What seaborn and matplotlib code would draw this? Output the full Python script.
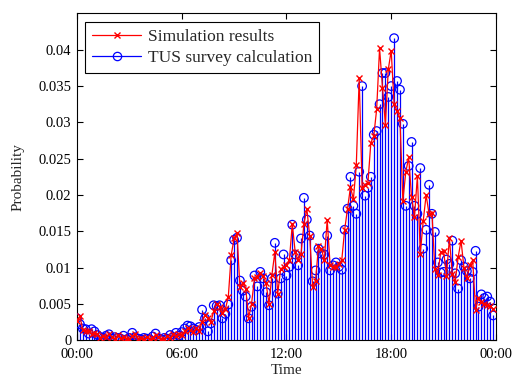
import numpy as np
import pandas as pd
import matplotlib
matplotlib.use("Agg")
import matplotlib.pyplot as plt
import seaborn as sns
from matplotlib.lines import Line2D

# 10-minute slots over one day (144 slots)
slot_hours = np.arange(144) / 6.0

tus_survey = [
    0.0030, 0.0022, 0.0016, 0.0015, 0.0009, 0.0015, 0.0012, 0.0007, 0.0004, 0.0003,
    0.0006, 0.0008, 0.0002, 0.0004, 0.0003, 0.0002, 0.0006, 0.0001, 0.0003, 0.0010,
    0.0004, 0.0002, 0.0001, 0.0003, 0.0002, 0.0001, 0.0005, 0.0009, 0.0002, 0.0001,
    0.0003, 0.0002, 0.0007, 0.0004, 0.0010, 0.0006, 0.0011, 0.0016, 0.0020, 0.0019,
    0.0016, 0.0014, 0.0018, 0.0042, 0.0030, 0.0012, 0.0023, 0.0048, 0.0047, 0.0048,
    0.0030, 0.0036, 0.0049, 0.0110, 0.0138, 0.0141, 0.0082, 0.0068, 0.0060, 0.0030,
    0.0046, 0.0089, 0.0074, 0.0094, 0.0085, 0.0066, 0.0048, 0.0085, 0.0134, 0.0064,
    0.0085, 0.0118, 0.0089, 0.0101, 0.0159, 0.0118, 0.0103, 0.0140, 0.0196, 0.0166,
    0.0144, 0.0081, 0.0096, 0.0126, 0.0119, 0.0118, 0.0144, 0.0096, 0.0103, 0.0107,
    0.0101, 0.0097, 0.0152, 0.0181, 0.0225, 0.0185, 0.0174, 0.0232, 0.0350, 0.0199,
    0.0210, 0.0225, 0.0283, 0.0288, 0.0325, 0.0368, 0.0368, 0.0335, 0.0350, 0.0416,
    0.0357, 0.0345, 0.0298, 0.0185, 0.0240, 0.0273, 0.0185, 0.0174, 0.0237, 0.0126,
    0.0152, 0.0214, 0.0174, 0.0149, 0.0107, 0.0093, 0.0094, 0.0111, 0.0105, 0.0137,
    0.0092, 0.0071, 0.0110, 0.0101, 0.0095, 0.0085, 0.0094, 0.0123, 0.0046, 0.0063,
    0.0058, 0.0060, 0.0053, 0.0034,
]

simulation = [
    0.0027, 0.0033, 0.0014, 0.0012, 0.0013, 0.0008, 0.0010, 0.0009, 0.0003, 0.0006,
    0.0004, 0.0009, 0.0004, 0.0002, 0.0007, 0.0003, 0.0004, 0.0002, 0.0001, 0.0006,
    0.0008, 0.0002, 0.0003, 0.0001, 0.0004, 0.0002, 0.0003, 0.0007, 0.0004, 0.0002,
    0.0001, 0.0005, 0.0003, 0.0008, 0.0006, 0.0009, 0.0007, 0.0012, 0.0016, 0.0014,
    0.0011, 0.0017, 0.0013, 0.0025, 0.0034, 0.0030, 0.0025, 0.0040, 0.0050, 0.0046,
    0.0037, 0.0043, 0.0059, 0.0117, 0.0140, 0.0147, 0.0073, 0.0079, 0.0071, 0.0031,
    0.0050, 0.0085, 0.0087, 0.0093, 0.0088, 0.0078, 0.0050, 0.0090, 0.0121, 0.0064,
    0.0098, 0.0101, 0.0103, 0.0110, 0.0160, 0.0121, 0.0110, 0.0119, 0.0160, 0.0181,
    0.0143, 0.0073, 0.0082, 0.0129, 0.0126, 0.0110, 0.0166, 0.0103, 0.0101, 0.0101,
    0.0105, 0.0110, 0.0152, 0.0181, 0.0211, 0.0194, 0.0241, 0.0361, 0.0210, 0.0214,
    0.0217, 0.0272, 0.0281, 0.0318, 0.0402, 0.0348, 0.0297, 0.0373, 0.0399, 0.0325,
    0.0316, 0.0306, 0.0192, 0.0231, 0.0252, 0.0197, 0.0170, 0.0226, 0.0119, 0.0164,
    0.0200, 0.0174, 0.0175, 0.0098, 0.0090, 0.0121, 0.0123, 0.0089, 0.0140, 0.0091,
    0.0080, 0.0114, 0.0137, 0.0100, 0.0085, 0.0103, 0.0110, 0.0042, 0.0058, 0.0053,
    0.0050, 0.0048, 0.0047, 0.0043,
]

x_ticks = [0, 6, 12, 18, 24]
x_tick_labels = ["00:00", "06:00", "12:00", "18:00", "00:00"]
y_ticks = [0, 0.005, 0.01, 0.015, 0.02, 0.025, 0.03, 0.035, 0.04]
y_tick_labels = ["0", "0.005", "0.01", "0.015", "0.02", "0.025", "0.03", "0.035", "0.04"]

df = pd.DataFrame({"t": slot_hours, "tus": tus_survey, "sim": simulation})

sns.set_style("ticks")
plt.rcParams["font.family"] = ["Liberation Serif", "DejaVu Serif"]
plt.rcParams["xtick.direction"] = "in"
plt.rcParams["ytick.direction"] = "in"

fig = plt.figure(figsize=(5.15, 3.80), dpi=100)
ax = fig.add_axes([0.1495, 0.105, 0.8135, 0.8595])

# TUS survey stems + circles
ax.vlines(df["t"], 0, df["tus"], colors="#0000ff", linewidth=0.9, zorder=2)
sns.scatterplot(data=df, x="t", y="tus", ax=ax, marker="o", s=38,
                facecolors="none", edgecolor="#0000ff", linewidth=0.9,
                zorder=3, legend=False)

# Simulation line with x markers
sns.lineplot(data=df, x="t", y="sim", ax=ax, color="#ff0000", linewidth=0.9,
             marker="x", markersize=5, markeredgewidth=1.0,
             markeredgecolor="#ff0000", zorder=4, legend=False)

ax.set_xlim(0, 24)
ax.set_ylim(0, 0.045)
ax.set_xticks(x_ticks)
ax.set_xticklabels(x_tick_labels)
ax.set_yticks(y_ticks)
ax.set_yticklabels(y_tick_labels)
ax.tick_params(axis="both", labelsize=10.5, length=4, width=0.8,
               top=True, right=True, colors="black")
ax.tick_params(axis="x", pad=6)
ax.tick_params(axis="y", pad=4)
for sp in ax.spines.values():
    sp.set_visible(True)
    sp.set_color("black")
    sp.set_linewidth(0.8)

ax.set_xlabel("Time", fontsize=11, labelpad=2)
ax.set_ylabel("Probability", fontsize=11, labelpad=10)

handles = [
    Line2D([0], [0], color="#ff0000", linewidth=0.9, marker="x", markersize=5,
           markeredgewidth=1.0),
    Line2D([0], [0], color="#0000ff", linewidth=0.9, marker="o", markersize=6,
           markerfacecolor="none", markeredgewidth=0.9),
]
leg = ax.legend(handles, ["Simulation results", "TUS survey calculation"],
                loc="upper left", bbox_to_anchor=(0.012, 0.985),
                fontsize=12.5, frameon=True, fancybox=False, framealpha=1,
                edgecolor="black", borderpad=0.4, labelspacing=0.3,
                handlelength=2.8, handletextpad=0.4, borderaxespad=0.2)
leg.get_frame().set_linewidth(0.8)

fig.savefig("out.png", dpi=100)
